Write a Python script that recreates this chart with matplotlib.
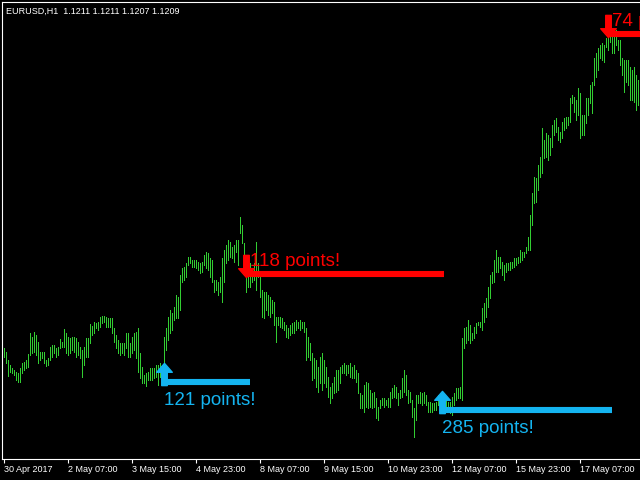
#!/usr/bin/env python
# -*- coding: utf-8 -*-

"""
EURUSD H1 bar chart with buy/sell signal arrows (MT4 style).
"""

import numpy as np
import matplotlib
matplotlib.use("Agg")
import matplotlib.pyplot as plt
from matplotlib.path import Path
from matplotlib import transforms

plt.rcParams["font.family"] = ["Liberation Sans", "DejaVu Sans"]

# chart header
SYMBOL_TEXT = "EURUSD,H1  1.1211 1.1211 1.1207 1.1209"

# H1 bars (high / low)
bar_high = [
    1.0852, 1.0848, 1.0840, 1.0835, 1.0832, 1.0830, 1.0828, 1.0827, 1.0832, 1.0837,
    1.0838, 1.0840, 1.0846, 1.0867, 1.0863, 1.0868, 1.0865, 1.0858, 1.0848, 1.0848,
    1.0848, 1.0840, 1.0842, 1.0853, 1.0855, 1.0855, 1.0852, 1.0853, 1.0861, 1.0858,
    1.0871, 1.0867, 1.0863, 1.0862, 1.0863, 1.0863, 1.0862, 1.0858, 1.0853, 1.0850,
    1.0853, 1.0862, 1.0862, 1.0876, 1.0874, 1.0878, 1.0877, 1.0878, 1.0883, 1.0884,
    1.0884, 1.0883, 1.0882, 1.0882, 1.0882, 1.0872, 1.0865, 1.0860, 1.0857, 1.0857,
    1.0857, 1.0867, 1.0867, 1.0857, 1.0863, 1.0867, 1.0868, 1.0872, 1.0847, 1.0833,
    1.0825, 1.0827, 1.0828, 1.0832, 1.0832, 1.0832, 1.0835, 1.0835, 1.0837, 1.0835,
    1.0863, 1.0872, 1.0883, 1.0890, 1.0887, 1.0893, 1.0905, 1.0903, 1.0925, 1.0932,
    1.0933, 1.0937, 1.0943, 1.0943, 1.0940, 1.0940, 1.0940, 1.0938, 1.0937, 1.0938,
    1.0945, 1.0948, 1.0947, 1.0942, 1.0940, 1.0920, 1.0920, 1.0918, 1.0923, 1.0942,
    1.0950, 1.0955, 1.0960, 1.0958, 1.0953, 1.0955, 1.0960, 1.0960, 1.0983, 1.0975,
    1.0957, 1.0943, 1.0930, 1.0937, 1.0930, 1.0937, 1.0958, 1.0937, 1.0923, 1.0910,
    1.0908, 1.0908, 1.0905, 1.0903, 1.0900, 1.0898, 1.0883, 1.0883, 1.0883, 1.0882,
    1.0878, 1.0875, 1.0872, 1.0875, 1.0877, 1.0878, 1.0880, 1.0878, 1.0880, 1.0878,
    1.0878, 1.0872, 1.0863, 1.0857, 1.0847, 1.0842, 1.0840, 1.0833, 1.0843, 1.0847,
    1.0840, 1.0833, 1.0823, 1.0813, 1.0817, 1.0823, 1.0830, 1.0830, 1.0833, 1.0835,
    1.0837, 1.0835, 1.0835, 1.0837, 1.0833, 1.0835, 1.0830, 1.0827, 1.0807, 1.0805,
    1.0815, 1.0818, 1.0817, 1.0810, 1.0807, 1.0808, 1.0802, 1.0793, 1.0800, 1.0802,
    1.0802, 1.0800, 1.0802, 1.0808, 1.0812, 1.0815, 1.0813, 1.0807, 1.0810, 1.0822,
    1.0830, 1.0825, 1.0810, 1.0808, 1.0800, 1.0792, 1.0805, 1.0805, 1.0808, 1.0807,
    1.0808, 1.0805, 1.0798, 1.0798, 1.0797, 1.0797, 1.0798, 1.0805, 1.0807, 1.0805,
    1.0802, 1.0800, 1.0798, 1.0798, 1.0803, 1.0807, 1.0812, 1.0812, 1.0813, 1.0862,
    1.0872, 1.0873, 1.0880, 1.0875, 1.0867, 1.0873, 1.0877, 1.0878, 1.0878, 1.0892,
    1.0897, 1.0902, 1.0913, 1.0925, 1.0928, 1.0940, 1.0950, 1.0943, 1.0943, 1.0938,
    1.0935, 1.0937, 1.0937, 1.0938, 1.0938, 1.0942, 1.0942, 1.0943, 1.0950, 1.0948,
    1.0948, 1.0953, 1.0963, 1.0985, 1.1007, 1.1023, 1.1022, 1.1035, 1.1043, 1.1072,
    1.1060, 1.1067, 1.1065, 1.1062, 1.1075, 1.1080, 1.1082, 1.1073, 1.1068, 1.1078,
    1.1082, 1.1083, 1.1083, 1.1102, 1.1105, 1.1103, 1.1100, 1.1112, 1.1107, 1.1085,
    1.1085, 1.1102, 1.1102, 1.1115, 1.1118, 1.1142, 1.1147, 1.1152, 1.1155, 1.1157,
    1.1155, 1.1162, 1.1162, 1.1170, 1.1165, 1.1165, 1.1170, 1.1160, 1.1160, 1.1142,
    1.1140, 1.1140, 1.1140, 1.1133, 1.1130, 1.1133, 1.1125, 1.1120, 1.1118,
]
bar_low = [
    1.0843, 1.0837, 1.0824, 1.0828, 1.0827, 1.0825, 1.0820, 1.0818, 1.0818, 1.0827,
    1.0830, 1.0832, 1.0833, 1.0845, 1.0847, 1.0848, 1.0845, 1.0837, 1.0840, 1.0842,
    1.0837, 1.0834, 1.0835, 1.0840, 1.0843, 1.0847, 1.0843, 1.0845, 1.0852, 1.0853,
    1.0853, 1.0847, 1.0845, 1.0847, 1.0850, 1.0848, 1.0843, 1.0845, 1.0842, 1.0823,
    1.0835, 1.0843, 1.0843, 1.0857, 1.0865, 1.0867, 1.0872, 1.0870, 1.0873, 1.0877,
    1.0878, 1.0873, 1.0873, 1.0873, 1.0867, 1.0858, 1.0852, 1.0847, 1.0845, 1.0847,
    1.0845, 1.0852, 1.0843, 1.0843, 1.0847, 1.0850, 1.0842, 1.0828, 1.0822, 1.0817,
    1.0817, 1.0814, 1.0820, 1.0820, 1.0820, 1.0822, 1.0823, 1.0815, 1.0823, 1.0818,
    1.0820, 1.0850, 1.0860, 1.0867, 1.0870, 1.0880, 1.0882, 1.0882, 1.0890, 1.0918,
    1.0920, 1.0923, 1.0935, 1.0937, 1.0933, 1.0933, 1.0932, 1.0930, 1.0927, 1.0928,
    1.0935, 1.0932, 1.0930, 1.0923, 1.0918, 1.0908, 1.0910, 1.0905, 1.0908, 1.0898,
    1.0918, 1.0937, 1.0940, 1.0943, 1.0942, 1.0938, 1.0948, 1.0935, 1.0967, 1.0957,
    1.0927, 1.0908, 1.0913, 1.0913, 1.0918, 1.0920, 1.0910, 1.0923, 1.0903, 1.0883,
    1.0882, 1.0890, 1.0885, 1.0883, 1.0887, 1.0875, 1.0858, 1.0875, 1.0873, 1.0872,
    1.0870, 1.0863, 1.0862, 1.0865, 1.0867, 1.0867, 1.0870, 1.0872, 1.0870, 1.0872,
    1.0868, 1.0840, 1.0843, 1.0840, 1.0820, 1.0822, 1.0813, 1.0808, 1.0817, 1.0810,
    1.0817, 1.0813, 1.0803, 1.0797, 1.0802, 1.0807, 1.0808, 1.0810, 1.0817, 1.0827,
    1.0827, 1.0825, 1.0827, 1.0823, 1.0822, 1.0822, 1.0818, 1.0807, 1.0792, 1.0792,
    1.0788, 1.0793, 1.0792, 1.0793, 1.0792, 1.0793, 1.0782, 1.0780, 1.0792, 1.0795,
    1.0793, 1.0795, 1.0793, 1.0793, 1.0802, 1.0803, 1.0802, 1.0795, 1.0802, 1.0803,
    1.0808, 1.0805, 1.0797, 1.0798, 1.0783, 1.0763, 1.0780, 1.0797, 1.0797, 1.0795,
    1.0797, 1.0795, 1.0788, 1.0788, 1.0788, 1.0790, 1.0790, 1.0795, 1.0800, 1.0795,
    1.0790, 1.0788, 1.0788, 1.0787, 1.0785, 1.0795, 1.0800, 1.0802, 1.0802, 1.0800,
    1.0852, 1.0857, 1.0860, 1.0857, 1.0860, 1.0862, 1.0867, 1.0875, 1.0873, 1.0870,
    1.0878, 1.0883, 1.0893, 1.0902, 1.0917, 1.0918, 1.0928, 1.0928, 1.0932, 1.0925,
    1.0920, 1.0928, 1.0930, 1.0930, 1.0932, 1.0933, 1.0935, 1.0937, 1.0938, 1.0940,
    1.0943, 1.0947, 1.0950, 1.0950, 1.0975, 1.0997, 1.0998, 1.1010, 1.1023, 1.1027,
    1.1042, 1.1043, 1.1040, 1.1045, 1.1053, 1.1065, 1.1068, 1.1060, 1.1058, 1.1062,
    1.1070, 1.1072, 1.1075, 1.1078, 1.1097, 1.1088, 1.1080, 1.1085, 1.1062, 1.1065,
    1.1065, 1.1077, 1.1085, 1.1097, 1.1087, 1.1115, 1.1123, 1.1130, 1.1142, 1.1140,
    1.1138, 1.1153, 1.1150, 1.1158, 1.1147, 1.1147, 1.1155, 1.1150, 1.1135, 1.1125,
    1.1108, 1.1118, 1.1115, 1.1100, 1.1100, 1.1098, 1.1090, 1.1095, 1.1093,
]

# time axis labels (every 32 bars)
tick_bars = [0, 32, 64, 96, 128, 160, 192, 224, 256, 288]
tick_labels = [
    "30 Apr 2017", "2 May 07:00", "3 May 15:00", "4 May 23:00", "8 May 07:00",
    "9 May 15:00", "10 May 23:00", "12 May 07:00", "15 May 23:00", "17 May 07:00",
]

# signals
signal_bar = [80, 121, 219, 302]
signal_end = [123, 220, 304, 330]
signal_price = [1.0818, 1.0926, 1.0790, 1.1166]
signal_dir = ["buy", "sell", "buy", "sell"]
signal_points = [121, 118, 285, 74]

BG = "black"
BAR_COLOR = "#32CD32"
BUY_COLOR = "#14B4F0"
SELL_COLOR = "#FF0000"

W, H = 640, 480


def arrow_marker(up=True):
    """太い矢印のマーカー"""
    s = 1 if up else -1
    verts = [(0, 1 * s), (-0.7, 0.2 * s), (-0.25, 0.2 * s), (-0.25, -1 * s),
             (0.25, -1 * s), (0.25, 0.2 * s), (0.7, 0.2 * s), (0, 1 * s)]
    return Path(verts, closed=True)


fig = plt.figure(figsize=(W / 100, H / 100), dpi=100, facecolor=BG)
ax = fig.add_axes([2 / W, 1 - 459 / H, 1 - 2 / W, (459 - 2) / H])
ax.set_facecolor(BG)

x = np.arange(len(bar_high))
bars = ax.vlines(x, bar_low, bar_high, colors=BAR_COLOR, linewidth=0.6)
bars.set_antialiased(False)

# signals: horizontal level, arrow and label
up_offset = transforms.offset_copy(ax.transData, fig=fig, x=0, y=6, units="points")
for b, e, p, d, pts in zip(signal_bar, signal_end, signal_price, signal_dir, signal_points):
    color = BUY_COLOR if d == "buy" else SELL_COLOR
    lc = ax.hlines(p, b, e, colors=color, linewidth=4.4)
    lc.set_capstyle("butt")
    ax.plot([b], [p], marker=arrow_marker(d == "buy"), markersize=16,
            color=color, linestyle="none", transform=up_offset, zorder=4)
    if d == "buy":
        xy_off = (0.5, -16.5)
    else:
        xy_off = (3, 6)
    ax.annotate(f"{pts} points!", xy=(b, p), xytext=xy_off, textcoords="offset points",
                color=color, fontsize=13.5, ha="left", va="baseline", zorder=5,
                annotation_clip=False)

# 1バー = 2px、ピクセル中心に合わせる
ax.set_xlim(-0.75, len(bar_high) - 0.75)
ax.set_ylim(1.0741, 1.1198)

# MT4風の枠
for side in ["left", "top", "bottom"]:
    ax.spines[side].set_color("white")
    ax.spines[side].set_linewidth(0.8)
ax.spines["right"].set_visible(False)

ax.set_yticks([])
ax.set_xticks(tick_bars)
ax.set_xticklabels(tick_labels, ha="left", fontsize=6.5, color="white")
ax.tick_params(axis="x", direction="out", length=3, width=0.8, color="white", pad=1.5)

fig.text(6 / W, 1 - 14 / H, SYMBOL_TEXT, color="white", fontsize=6.5,
         ha="left", va="baseline")

fig.savefig("out.png", dpi=100, facecolor=BG)
